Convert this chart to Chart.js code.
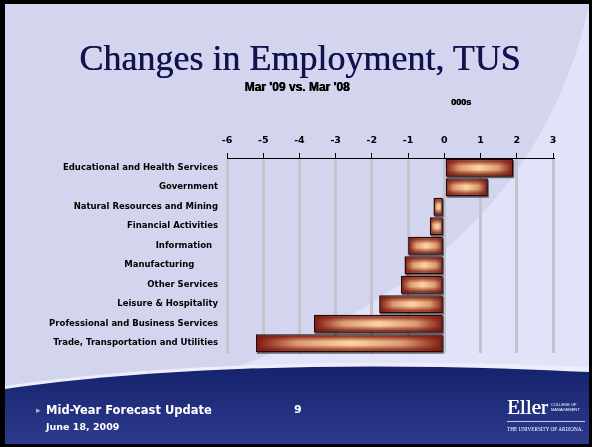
<!DOCTYPE html>
<html>
<head>
<meta charset="utf-8">
<script src="https://cdn.jsdelivr.net/npm/chart.js@4.4.1/dist/chart.umd.min.js"></script>
<style>
  html, body { margin: 0; padding: 0; }
  #slide { position: relative; width: 592px; height: 447px; overflow: hidden; font-family: "Liberation Sans", Arial, sans-serif; }
  #bg { position: absolute; left: 0; top: 0; }
  #chart { position: absolute; left: 0; top: 0; }
  .txt { position: absolute; white-space: nowrap; }
  #title { left: 0; width: 600px; top: 37px; text-align: center; font-family: "Liberation Serif", "Times New Roman", serif; font-size: 36px; line-height: 42px; color: #12124e; text-shadow: 0.4px 0 0 #12124e; }
  #sub { left: 0; width: 594px; top: 80px; text-align: center; font-weight: bold; font-size: 12px; color: #000; text-shadow: 0.6px 0 0 #000; }
  #unit { left: 451px; top: 97px; font-weight: bold; font-size: 9px; color: #000; text-shadow: 0.5px 0 0 #000; }
  #foot1 { left: 46px; top: 403px; font-family: "DejaVu Sans", sans-serif; font-weight: bold; font-size: 11.5px; color: #fff; }
  #bullet { left: 36px; top: 405px; font-size: 9px; color: #b0b4c8; }
  #foot2 { left: 46px; top: 421px; font-family: "DejaVu Sans", sans-serif; font-weight: bold; font-size: 9.5px; color: #fff; }
  #page { left: 294px; top: 403px; font-family: "DejaVu Sans", sans-serif; font-weight: bold; font-size: 11px; color: #fff; }
  #eller { left: 507px; top: 395px; font-family: "Liberation Serif", serif; font-size: 21px; color: #fff; text-shadow: 0.4px 0 0 #fff; }
  #college { left: 551px; top: 402px; font-size: 4px; line-height: 5px; color: #fff; }
  #rule { left: 507px; top: 421px; width: 78px; height: 1px; background: #c8cbe0; }
  #ua { left: 507px; top: 426px; font-family: "Liberation Serif", serif; font-size: 5.2px; color: #fff; }
</style>
</head>
<body>
<div id="slide">
  <svg id="bg" width="592" height="447" viewBox="0 0 592 447">
    <defs>
      <linearGradient id="band" x1="0" y1="0" x2="0" y2="1">
        <stop offset="0" stop-color="#15226c"/>
        <stop offset="1" stop-color="#2e3b8e"/>
      </linearGradient>
    </defs>
    <rect x="0" y="0" width="592" height="447" fill="#000"/>
    <rect x="5" y="4" width="584" height="440" fill="#d3d4ee"/>
    <path d="M200 380 C 380 320, 540 220, 589 6 L 589 380 Z" fill="#e2e3f8"/>
    <path d="M5 386 C 150 365, 350 357, 589 367 L 589 380 L 5 392 Z" fill="#eeeefb"/>
    <path d="M5 389 C 150 368, 350 360, 589 372 L 589 444 L 5 444 Z" fill="url(#band)"/>
  </svg>
  <canvas id="chart" width="592" height="447"></canvas>
  <div class="txt" id="title">Changes in Employment, TUS</div>
  <div class="txt" id="sub">Mar '09 vs. Mar '08</div>
  <div class="txt" id="unit">000s</div>
  <div class="txt" id="bullet">&#9656;</div>
  <div class="txt" id="foot1">Mid-Year Forecast Update</div>
  <div class="txt" id="foot2">June 18, 2009</div>
  <div class="txt" id="page">9</div>
  <div class="txt" id="eller">Eller</div>
  <div class="txt" id="college">COLLEGE OF<br>MANAGEMENT</div>
  <div class="txt" id="rule"></div>
  <div class="txt" id="ua">THE UNIVERSITY OF ARIZONA.</div>
</div>
<script>
// categories, top to bottom (trailing spaces keep the original label offsets)
const sectors = [
  'Educational and Health Services',
  'Government',
  'Natural Resources and Mining',
  'Financial Activities',
  'Information  ',
  'Manufacturing        ',
  'Other Services',
  'Leisure & Hospitality',
  'Professional and Business Services',
  'Trade, Transportation and Utilities'
];
// change in employment, thousands
const changes = [1.9, 1.2, -0.3, -0.4, -1.0, -1.1, -1.2, -1.8, -3.6, -5.2];
const xMin = -6;
const xMax = 3;

const ctx = document.getElementById('chart');

// horizontal shading: dark red at both ends, peach in the middle
function barFill(c) {
  const chart = c.chart;
  const xs = chart.scales.x;
  if (!xs || c.raw === undefined) return '#b05a3a';
  const a = xs.getPixelForValue(0);
  const b = xs.getPixelForValue(c.raw);
  if (!isFinite(a) || !isFinite(b) || a === b) return '#b05a3a';
  const g = chart.ctx.createLinearGradient(Math.min(a, b), 0, Math.max(a, b), 0);
  g.addColorStop(0, '#7e1610');
  g.addColorStop(0.22, '#dc9c70');
  g.addColorStop(0.5, '#fdd5a0');
  g.addColorStop(0.78, '#dc9c70');
  g.addColorStop(1, '#7e1610');
  return g;
}

// shadow under the bars and vertical shading on top of them
const barShade = {
  id: 'barShade',
  beforeDatasetsDraw(chart) {
    const c = chart.ctx;
    chart.getDatasetMeta(0).data.forEach(el => {
      const p = el.getProps(['x', 'y', 'base', 'height'], true);
      const l = Math.min(p.x, p.base), r = Math.max(p.x, p.base);
      c.save();
      c.fillStyle = 'rgba(0,0,0,0.55)';
      c.fillRect(l + 1, p.y - p.height / 2 + 1.5, r - l, p.height);
      c.restore();
    });
  },
  afterDatasetsDraw(chart) {
    const c = chart.ctx;
    chart.getDatasetMeta(0).data.forEach(el => {
      const p = el.getProps(['x', 'y', 'base', 'height'], true);
      const l = Math.min(p.x, p.base) + 1.5, r = Math.max(p.x, p.base) - 1.5;
      const t = p.y - p.height / 2 + 1.5, btm = p.y + p.height / 2 - 1.5;
      if (![l, r, t, btm].every(isFinite)) return;
      const g = c.createLinearGradient(0, t, 0, btm);
      g.addColorStop(0, 'rgba(126,22,16,0.9)');
      g.addColorStop(0.38, 'rgba(126,22,16,0)');
      g.addColorStop(0.62, 'rgba(126,22,16,0)');
      g.addColorStop(1, 'rgba(126,22,16,0.9)');
      c.save();
      c.fillStyle = g;
      c.fillRect(l, t, r - l, btm - t);
      c.restore();
    });
  }
};

new Chart(ctx, {
  type: 'bar',
  data: {
    labels: sectors,
    datasets: [{
      data: changes,
      backgroundColor: barFill,
      borderColor: '#2a0604',
      borderWidth: 1.5,
      borderSkipped: false,
      categoryPercentage: 1,
      barPercentage: 0.92
    }]
  },
  options: {
    indexAxis: 'y',
    responsive: false,
    animation: false,
    layout: { padding: { left: 0, right: 39, top: 100, bottom: 94 } },
    plugins: { legend: { display: false }, tooltip: { enabled: false } },
    scales: {
      x: {
        position: 'top',
        min: xMin,
        max: xMax,
        afterFit(s) { s.height = 58; },
        ticks: {
          stepSize: 1,
          padding: 7,
          color: '#000',
          font: { family: 'DejaVu Sans', weight: 'bold', size: 9.5 }
        },
        grid: {
          color: '#c3c3cc',
          lineWidth: 3,
          tickColor: '#000',
          tickWidth: 1,
          tickLength: 5
        },
        border: { display: true, color: '#000', width: 1 }
      },
      y: {
        afterFit(s) { s.width = 227; },
        ticks: {
          padding: 9,
          color: '#000',
          font: { family: 'DejaVu Sans', weight: 'bold', size: 8.5 }
        },
        grid: { display: false, drawTicks: false },
        border: { display: false }
      }
    }
  },
  plugins: [barShade]
});
</script>
</body>
</html>
